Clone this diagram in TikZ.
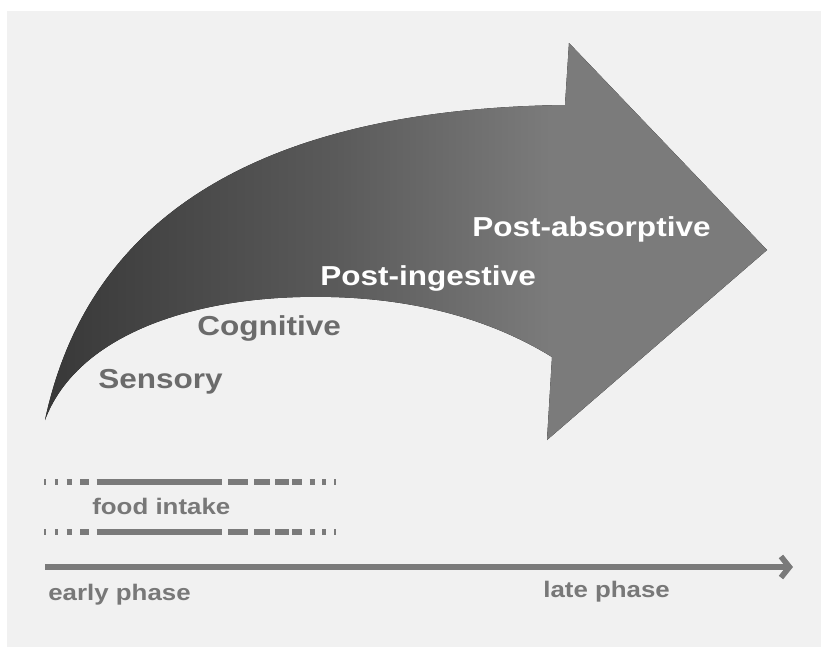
\documentclass[tikz,border=0pt]{standalone}
\usepackage{fontspec}
\setmainfont{Liberation Sans}
\usetikzlibrary{arrows.meta,positioning}

\definecolor{paper}{HTML}{F1F1F1}
\definecolor{swooshdark}{HTML}{383838}
\definecolor{swooshmid}{HTML}{5A5A5A}
\definecolor{swooshlight}{HTML}{7B7B7B}
\definecolor{labelgray}{HTML}{6B6B6B}
\definecolor{notegray}{HTML}{787878}
\definecolor{linegray}{HTML}{7A7A7A}

% dark tail fading into the grey head
\pgfdeclarehorizontalshading{swoosh}{100bp}{color(0bp)=(swooshdark); color(25bp)=(swooshdark);
  color(45bp)=(swooshmid); color(60bp)=(swooshlight); color(100bp)=(swooshlight)}

\tikzset{
	phase/.style={font=\bfseries\fontsize{19.5}{23}\selectfont,inner sep=0pt,anchor=base west,xscale=1.15},
	dim/.style={phase,text=labelgray},
	bright/.style={phase,text=white},
	note/.style={font=\bfseries\fontsize{16}{19}\selectfont,text=notegray,inner sep=0pt,anchor=base west,xscale=1.15},
	intake/.style={draw=linegray,line width=3.9pt,
		dash pattern=on 1pt off 6.6pt on 2.1pt off 6.2pt on 3.6pt off 5.9pt on 6.6pt off 5.3pt
		on 88.9pt off 4.3pt on 14.7pt off 4.1pt on 10.9pt off 4.1pt on 9.5pt off 2.4pt
		on 7.1pt off 5.4pt on 4.1pt off 4.8pt on 3.1pt off 5.7pt on 1.4pt off 20pt},
	timeline/.style={draw=linegray,line width=4pt,-{Straight Barb[length=6pt,width=15pt]}}
}

\begin{document}
\begin{tikzpicture}[x=0.25mm,y=-0.25mm]
	\useasboundingbox (0,0) rectangle (821,646);
	\fill[white] (0,0) rectangle (821,646);
	\fill[paper] (7,11) rectangle (830,655);

	% the curved arrow
	\coordinate (tail) at (45,420);
	\coordinate (notchtop) at (565,105);
	\coordinate (headtop) at (569,43);
	\coordinate (tip) at (767,250);
	\coordinate (headbot) at (547,440);
	\coordinate (notchbot) at (552,357);
	\coordinate (belly) at (300,297);
	\fill[shading=swoosh] (tail) .. controls (75,280) and (180,110) .. (notchtop)
		-- (headtop) -- (tip) -- (headbot) -- (notchbot)
		.. controls (500,325) and (420,294) .. (belly)
		.. controls (180,300) and (75,340) .. (tail) -- cycle;

	\node[dim] (sensory) at (98,388) {Sensory};
	\node[dim] (cognitive) at (197,335) {Cognitive};
	\node[bright] (postingest) at (320,285) {Post-ingestive};
	\node[bright] (postabsorb) at (472,236) {Post-absorptive};

	% food intake window
	\coordinate (upA) at (44.3,482);
	\coordinate (upB) at (336,482);
	\coordinate (loA) at (44.3,532);
	\coordinate (loB) at (336,532);
	\draw[intake] (upA) -- (upB);
	\draw[intake] (loA) -- (loB);
	\node[note] (intakelbl) at (92,514) {food intake};

	% time axis
	\coordinate (axstart) at (45,567);
	\coordinate (axend) at (793,567);
	\draw[timeline] (axstart) -- (axend);
	\node[note] (early) at (48,600) {early phase};
	\node[note] (late) at (543,597) {late phase};
\end{tikzpicture}
\end{document}
